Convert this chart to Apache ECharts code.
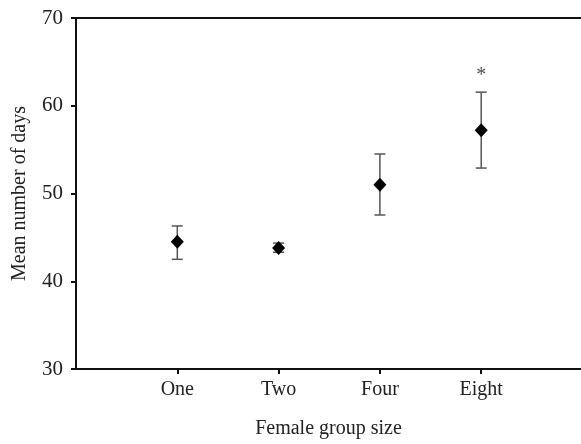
<!DOCTYPE html>
<html><head><meta charset="utf-8">
<script src="https://cdn.jsdelivr.net/npm/echarts@6/dist/echarts.min.js"></script>
<style>html,body{margin:0;padding:0;background:#fff}#c{width:581px;height:444px}</style>
</head><body><div id="c"></div>
<script>
var categories = ['One', 'Two', 'Four', 'Eight'];
var means = [44.5, 43.8, 51.0, 57.2];
var upper = [46.3, 44.35, 54.5, 61.55];
var lower = [42.5, 43.3, 47.55, 52.9];
var starCategory = 'Eight';
var starValue = 63.7;
var yTicks = [30, 40, 50, 60, 70];

var font = 'Liberation Serif';
var chart = echarts.init(document.getElementById('c'));
var pos = function (i) { return i + 1; };
var xPositions = categories.map(function (c, i) { return pos(i); });
var errData = categories.map(function (c, i) { return [pos(i), lower[i], upper[i]]; });
var meanData = categories.map(function (c, i) { return [pos(i), means[i]]; });
var starData = [[pos(categories.indexOf(starCategory)), starValue]];

chart.setOption({
  animation: false,
  grid: { left: 76, right: 0, top: 18, bottom: 72, show: false },
  xAxis: {
    type: 'value', min: 0, max: 4.985,
    name: 'Female group size', nameLocation: 'middle', nameGap: 50,
    nameTextStyle: { fontFamily: font, fontSize: 20, color: '#222' },
    axisLine: { lineStyle: { color: '#111', width: 2 } },
    axisTick: { length: 5, lineStyle: { color: '#111', width: 2 }, customValues: xPositions },
    axisLabel: {
      fontFamily: font, fontSize: 20, color: '#222', margin: 11,
      customValues: xPositions,
      formatter: function (v) { return categories[Math.round(v) - 1] || ''; }
    },
    splitLine: { show: false }
  },
  yAxis: {
    type: 'value', min: yTicks[0], max: yTicks[yTicks.length - 1], interval: 10,
    name: 'Mean number of days', nameLocation: 'middle', nameGap: 46,
    nameTextStyle: { fontFamily: font, fontSize: 20, color: '#222' },
    axisLine: { lineStyle: { color: '#111', width: 2 } },
    axisTick: { length: 5, lineStyle: { color: '#111', width: 2 } },
    axisLabel: { fontFamily: font, fontSize: 21, color: '#222', margin: 13 },
    splitLine: { show: false }
  },
  series: [
    {
      type: 'custom',
      data: errData,
      renderItem: function (params, api) {
        var x = api.value(0);
        var lo = api.coord([x, api.value(1)]);
        var hi = api.coord([x, api.value(2)]);
        var hw = 5.5;
        var st = { stroke: '#555', lineWidth: 1.5 };
        return { type: 'group', children: [
          { type: 'line', shape: { x1: lo[0], y1: lo[1], x2: hi[0], y2: hi[1] }, style: st },
          { type: 'line', shape: { x1: lo[0] - hw, y1: lo[1], x2: lo[0] + hw, y2: lo[1] }, style: st },
          { type: 'line', shape: { x1: hi[0] - hw, y1: hi[1], x2: hi[0] + hw, y2: hi[1] }, style: st }
        ]};
      },
      z: 2
    },
    {
      type: 'scatter', data: meanData, symbol: 'diamond', symbolSize: [13, 14],
      itemStyle: { color: '#000', opacity: 1 }, z: 3
    },
    {
      type: 'scatter', data: starData, symbolSize: 0,
      label: { show: true, formatter: '*', position: 'inside', fontFamily: font, fontSize: 20, color: '#222', offset: [0, 2] }
    },
    {
      type: 'line', data: [[0, 70], [4.985, 70]], symbol: 'none',
      lineStyle: { color: '#111', width: 2 }, silent: true
    }
  ]
});
</script></body></html>
